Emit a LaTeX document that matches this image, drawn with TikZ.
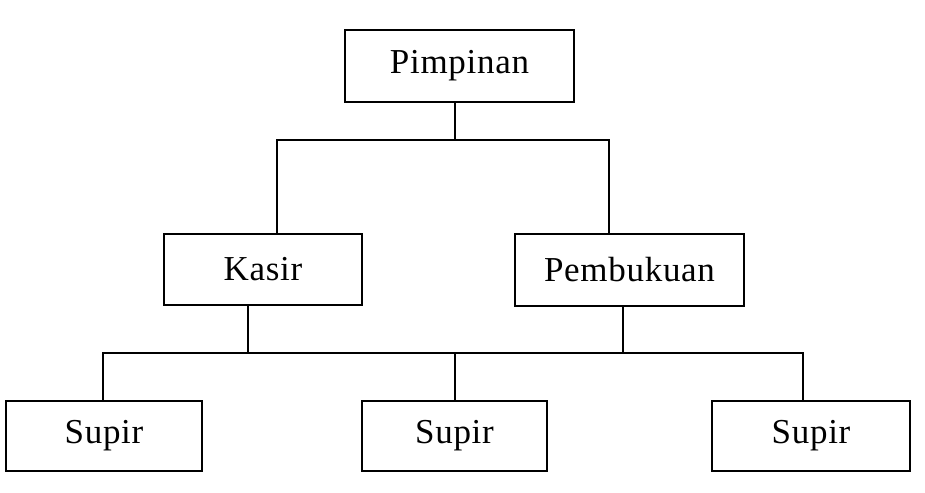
\documentclass[tikz,border=0pt]{standalone}
\usepackage{fontspec}
\setmainfont{Liberation Serif}[LetterSpace=2]
\usetikzlibrary{positioning}
\tikzset{
  kotakJabatan/.style={
    draw=black, line width=2pt,
    minimum height=71pt, minimum width=198pt,
    align=center, font=\fontsize{35}{42}\selectfont, text=black,
    fill=white, inner sep=0pt
  },
  garis/.style={draw=black, line width=2pt},
}
\begin{document}
\begin{tikzpicture}[x=1pt, y=-1pt]
    \useasboundingbox (0,0) rectangle (925,492);
    \node[kotakJabatan, minimum width=229pt, minimum height=72pt] (pimpinan) at (459.5,66) {Pimpinan};
    \node[kotakJabatan] (kasir) at (263,269.5) {Kasir};
    \node[kotakJabatan, minimum width=229pt, minimum height=72pt] (pembukuan) at (629.5,270) {Pembukuan};
    \node[kotakJabatan, minimum width=196pt, minimum height=70pt] (supirA) at (104,436) {Supir};
    \node[kotakJabatan, minimum width=185pt, minimum height=70pt] (supirB) at (454.5,436) {Supir};
    \node[kotakJabatan, minimum height=70pt] (supirC) at (811,436) {Supir};

    \coordinate (cabangAtas) at (455,140);
    \coordinate (kiriAtas) at (277,140);
    \coordinate (kananAtas) at (609,140);
    \coordinate (titikKasir) at (248,353);
    \coordinate (titikBuku) at (623,353);
    \coordinate (titikKiri) at (103,353);
    \coordinate (titikKanan) at (803,353);

    \draw[garis] (pimpinan.south -| cabangAtas) -- (cabangAtas);
    \draw[garis] (kasir.north -| kiriAtas) -- (kiriAtas) -- (kananAtas) -- (pembukuan.north -| kananAtas);
    \draw[garis] (kasir.south -| titikKasir) -- (titikKasir);
    \draw[garis] (pembukuan.south -| titikBuku) -- (titikBuku);
    \draw[garis] (supirA.north -| titikKiri) -- (titikKiri) -- (titikKanan) -- (supirC.north -| titikKanan);
    \draw[garis] (supirB.north) -- (supirB.north |- titikKiri);
\end{tikzpicture}
\end{document}
